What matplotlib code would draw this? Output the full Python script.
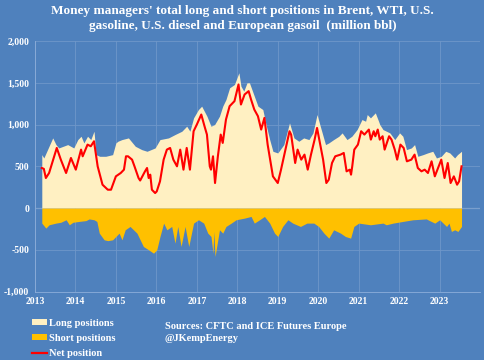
import matplotlib
matplotlib.use("Agg")
import matplotlib.pyplot as plt
from matplotlib.patches import Patch
from matplotlib.lines import Line2D

# ---- data (decimal years, million bbl) ----
long_dates = [2013.17, 2013.22, 2013.44, 2013.52, 2013.59, 2013.81, 2013.96, 2014.06, 2014.14, 2014.21,
              2014.30, 2014.38, 2014.46, 2014.51, 2014.60, 2014.75, 2014.92, 2015.00, 2015.05, 2015.15,
              2015.31, 2015.48, 2015.64, 2015.77, 2015.97, 2016.09, 2016.30, 2016.46, 2016.63, 2016.75,
              2016.83, 2016.92, 2017.04, 2017.12, 2017.25, 2017.35, 2017.44, 2017.56, 2017.64, 2017.72,
              2017.81, 2017.93, 2018.04, 2018.09, 2018.16, 2018.24, 2018.30, 2018.42, 2018.51, 2018.63,
              2018.71, 2018.80, 2018.88, 2019.00, 2019.15, 2019.29, 2019.40, 2019.52, 2019.64, 2019.77,
              2019.87, 2019.97, 2020.05, 2020.18, 2020.26, 2020.38, 2020.51, 2020.59, 2020.71, 2020.83,
              2020.96, 2021.08, 2021.17, 2021.21, 2021.29, 2021.41, 2021.49, 2021.52, 2021.60, 2021.77,
              2021.89, 2022.01, 2022.09, 2022.18, 2022.30, 2022.38, 2022.46, 2022.59, 2022.70, 2022.83,
              2022.92, 2023.04, 2023.15, 2023.25, 2023.37, 2023.44, 2023.54]
long_vals = [640, 600, 840, 760, 720, 760, 720, 820, 860, 780,
             860, 820, 920, 640, 620, 620, 640, 780, 800, 820,
             840, 740, 700, 680, 720, 820, 840, 880, 920, 980,
             920, 1080, 1180, 1220, 1100, 980, 1000, 1100, 1220, 1300,
             1440, 1480, 1620, 1460, 1400, 1500, 1500, 1340, 1220, 1180,
             1000, 820, 680, 660, 760, 1020, 840, 800, 840, 820,
             900, 1120, 980, 760, 780, 820, 860, 900, 820, 860,
             940, 1060, 1040, 1120, 1080, 1140, 1040, 1000, 940, 900,
             820, 900, 860, 700, 720, 760, 620, 640, 660, 680,
             600, 620, 680, 660, 600, 640, 680]

net_dates = [2013.17, 2013.22, 2013.27, 2013.35, 2013.44, 2013.54, 2013.64, 2013.77, 2013.89, 2014.01,
             2014.14, 2014.18, 2014.30, 2014.38, 2014.46, 2014.55, 2014.67, 2014.80, 2014.88, 2015.00,
             2015.12, 2015.20, 2015.25, 2015.30, 2015.40, 2015.46, 2015.56, 2015.60, 2015.72, 2015.77,
             2015.81, 2015.85, 2015.89, 2015.97, 2016.01, 2016.09, 2016.18, 2016.26, 2016.34, 2016.42,
             2016.51, 2016.59, 2016.67, 2016.75, 2016.83, 2016.92, 2017.00, 2017.11, 2017.19, 2017.25,
             2017.32, 2017.35, 2017.40, 2017.45, 2017.52, 2017.59, 2017.64, 2017.72, 2017.81, 2017.93,
             2018.03, 2018.09, 2018.18, 2018.28, 2018.34, 2018.42, 2018.51, 2018.59, 2018.67, 2018.75,
             2018.88, 2019.00, 2019.08, 2019.20, 2019.29, 2019.33, 2019.43, 2019.49, 2019.58, 2019.66,
             2019.74, 2019.82, 2019.91, 2019.97, 2020.05, 2020.12, 2020.20, 2020.26, 2020.34, 2020.42,
             2020.55, 2020.63, 2020.70, 2020.78, 2020.81, 2020.84, 2020.89, 2020.98, 2021.06, 2021.14,
             2021.25, 2021.30, 2021.37, 2021.41, 2021.47, 2021.52, 2021.59, 2021.64, 2021.75, 2021.81,
             2021.89, 2021.95, 2022.03, 2022.11, 2022.19, 2022.30, 2022.38, 2022.46, 2022.55, 2022.63,
             2022.71, 2022.80, 2022.88, 2022.96, 2023.04, 2023.12, 2023.20, 2023.27, 2023.35, 2023.43,
             2023.48, 2023.54]
net_vals = [480, 470, 360, 420, 560, 720, 580, 420, 600, 460,
            700, 620, 760, 740, 800, 500, 280, 220, 220, 380,
            420, 460, 620, 620, 580, 500, 360, 330, 440, 480,
            360, 400, 220, 180, 200, 320, 580, 700, 720, 580,
            500, 700, 460, 720, 460, 920, 1000, 1120, 980, 880,
            500, 460, 620, 300, 620, 880, 780, 1060, 1220, 1280,
            1480, 1240, 1360, 1400, 1300, 1180, 1100, 940, 1080, 760,
            380, 300, 460, 720, 920, 880, 540, 700, 580, 640,
            460, 640, 820, 960, 760, 580, 300, 340, 540, 620,
            640, 660, 440, 460, 400, 500, 700, 760, 920, 880,
            940, 820, 920, 860, 940, 820, 860, 700, 860, 820,
            700, 580, 760, 720, 560, 580, 640, 480, 440, 460,
            420, 560, 380, 480, 580, 360, 540, 300, 380, 280,
            320, 500]

short_dates = [2013.17, 2013.27, 2013.35, 2013.52, 2013.64, 2013.77, 2013.85, 2013.94, 2014.09, 2014.26,
               2014.34, 2014.46, 2014.53, 2014.59, 2014.71, 2014.80, 2014.92, 2015.08, 2015.15, 2015.23,
               2015.35, 2015.52, 2015.68, 2015.81, 2015.93, 2016.01, 2016.09, 2016.18, 2016.26, 2016.38,
               2016.46, 2016.53, 2016.61, 2016.71, 2016.80, 2016.92, 2017.04, 2017.17, 2017.27, 2017.35,
               2017.40, 2017.42, 2017.45, 2017.56, 2017.64, 2017.72, 2017.85, 2017.97, 2018.18, 2018.34,
               2018.42, 2018.55, 2018.67, 2018.80, 2018.92, 2019.00, 2019.12, 2019.25, 2019.37, 2019.56,
               2019.72, 2019.89, 2020.01, 2020.14, 2020.26, 2020.38, 2020.55, 2020.67, 2020.80, 2020.88,
               2021.00, 2021.29, 2021.60, 2021.68, 2021.85, 2022.09, 2022.34, 2022.67, 2022.75, 2022.88,
               2023.00, 2023.17, 2023.23, 2023.29, 2023.37, 2023.45, 2023.54]
short_vals = [-180, -240, -200, -180, -170, -140, -200, -170, -160, -150,
              -130, -140, -160, -300, -380, -390, -380, -300, -380, -260,
              -220, -300, -460, -500, -540, -500, -340, -180, -260, -220,
              -420, -220, -460, -220, -460, -180, -140, -180, -300, -340,
              -540, -280, -580, -260, -300, -220, -180, -140, -120, -100,
              -180, -140, -100, -180, -300, -340, -220, -140, -180, -220,
              -180, -180, -220, -300, -360, -260, -300, -340, -360, -220,
              -180, -200, -180, -200, -180, -160, -140, -130, -150, -180,
              -140, -220, -180, -280, -260, -280, -220]

year_ticks = list(range(2013, 2024))
y_ticks = [-1000, -500, 0, 500, 1000, 1500, 2000]

title = ("Money managers' total long and short positions in Brent, WTI, U.S.\n"
         "gasoline, U.S. diesel and European gasoil  (million bbl)")

# ---- styles ----
BG = "#4F81BD"
LONG_C = "#FFF0C2"
SHORT_C = "#FFC000"
NET_C = "#FF0000"
GRID_C = "#6F97C9"
FONT = ["Liberation Serif", "DejaVu Serif"]

fig = plt.figure(figsize=(4.85, 3.6), dpi=100, facecolor=BG)
ax = fig.add_axes([0.072, 0.19, 0.918, 0.696], facecolor=BG)

ax.fill_between(long_dates, long_vals, 0, color=LONG_C, linewidth=0, zorder=2)
ax.fill_between(short_dates, short_vals, 0, color=SHORT_C, linewidth=0, zorder=2)
ax.plot(net_dates, net_vals, color=NET_C, linewidth=1.5, zorder=3)

ax.set_xlim(2013, 2024)
ax.set_ylim(-1000, 2000)
ax.set_xticks(year_ticks)
ax.set_xticklabels([str(y) for y in year_ticks])
ax.set_yticks(y_ticks)
ax.set_yticklabels([f"{v:,}" for v in y_ticks])
ax.grid(True, color=GRID_C, linewidth=0.6, zorder=1)
ax.axhline(0, color="#B8CBE3", linewidth=0.8, zorder=1.5)
for s in ["top", "right"]:
    ax.spines[s].set_visible(False)
for s in ["left", "bottom"]:
    ax.spines[s].set_color("#8DAEDA")
    ax.spines[s].set_linewidth(0.6)
ax.tick_params(length=0, pad=4, colors="white")
for lab in ax.get_xticklabels() + ax.get_yticklabels():
    lab.set_family(FONT)
    lab.set_fontweight("bold")
    lab.set_fontsize(7)
    lab.set_color("white")

fig.text(0.5, 0.985, title, ha="center", va="top", color="white", fontsize=9.5,
         fontweight="bold", family=FONT, linespacing=1.25)

handles = [Patch(facecolor=LONG_C, edgecolor="none"),
           Patch(facecolor=SHORT_C, edgecolor="none"),
           Line2D([0], [0], color=NET_C, linewidth=1.6)]
labels = ["Long positions", "Short positions", "Net position"]
fig.legend(handles, labels, loc="upper left", bbox_to_anchor=(0.065, 0.115), frameon=False,
           prop={"family": FONT, "weight": "bold", "size": 7.5}, labelcolor="white",
           handlelength=1.5, handleheight=0.55, handletextpad=0.15, labelspacing=0.6,
           borderaxespad=0, borderpad=0)

fig.text(0.34, 0.106, "Sources: CFTC and ICE Futures Europe\n@JKempEnergy", ha="left", va="top",
         color="white", fontsize=7.5, fontweight="bold", family=FONT, linespacing=1.4)

fig.savefig("out.png", dpi=100, facecolor=BG)
